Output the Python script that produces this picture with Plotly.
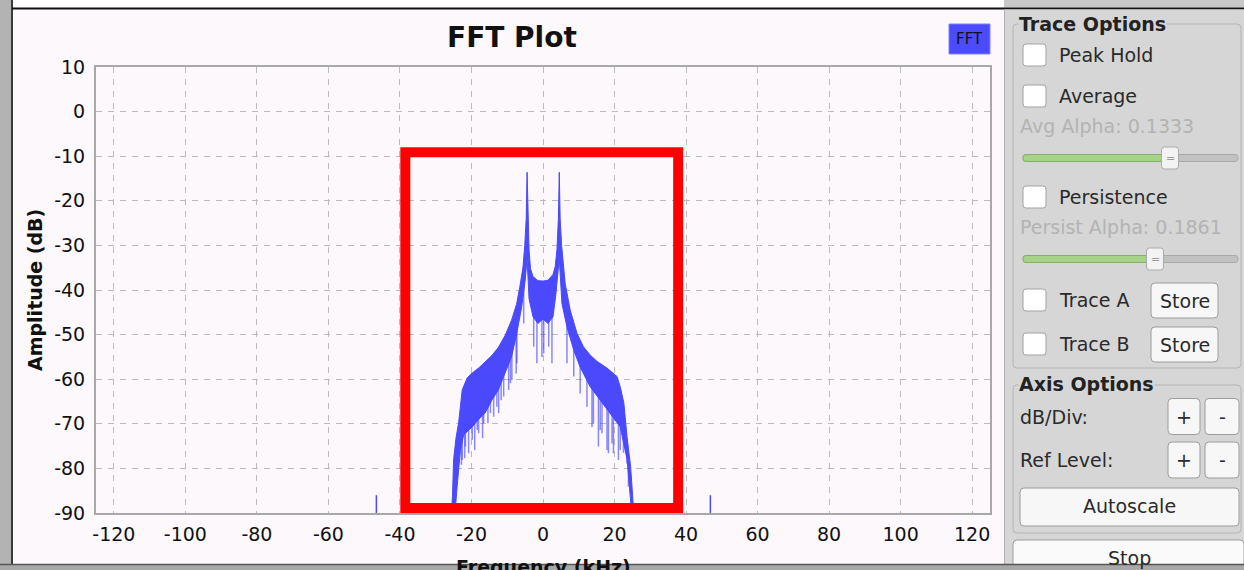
import numpy as np
import plotly.graph_objects as go

# ---------------- data ----------------
x_ticks = [-120, -100, -80, -60, -40, -20, 0, 20, 40, 60, 80, 100, 120]
y_ticks = [-90, -80, -70, -60, -50, -40, -30, -20, -10, 0, 10]

# upper envelope of the FFT trace (kHz, dB)
upper_freq = [-25.6, -25.3, -25.0, -24.3, -23.6, -22.6, -21.2, -19.8, -18.0, -16.2, -14.3,
              -12.5, -10.6, -8.8, -7.4, -6.5, -5.6, -5.1, -4.7, -4.45, -4.2, -3.9, -3.5,
              -2.8, -1.4, 0.0, 1.4, 2.8, 3.4, 3.9, 4.3, 4.55, 4.8, 5.2, 6.2, 7.6, 9.5,
              11.3, 13.2, 15.1, 17.9, 20.7, 21.6, 22.6, 23.5, 24.5, 25.2, 25.5]
upper_db = [-90, -86, -78, -73, -69.8, -62.4, -59.7, -58.6, -57.5, -56.2, -54.7,
            -52.9, -50.2, -46.8, -43.2, -39.4, -34.9, -30.0, -24.0, -13.6, -24.0, -31.0, -35.2,
            -37.0, -37.9, -38.0, -37.8, -36.5, -34.8, -31.0, -24.0, -13.6, -24.0, -30.0, -38.5, -44.5, -49.7,
            -52.7, -54.6, -56.0, -57.5, -59.4, -61.7, -65.3, -72.9, -79.6, -87.8, -90]

# lower edge of the dense part of the trace (kHz, dB)
lower_freq = [-25.6, -24.6, -24.0, -23.1, -22.2, -19.8, -18.0, -16.2, -14.3, -12.5, -10.6,
              -8.8, -7.4, -6.0, -5.0, -4.45, -3.9, -2.8, -1.4, 0.0, 1.4, 2.8, 3.6, 4.55,
              5.3, 6.7, 8.6, 10.4, 13.2, 16.0, 18.8, 21.6, 23.5, 24.4, 24.8, 25.5]
lower_db = [-90, -90, -84, -76, -72.5, -70.7, -69.0, -67.6, -64.7, -62.4, -58.6,
            -55.0, -50.0, -44.0, -38.0, -33.0, -42.0, -46.0, -47.5, -46.5, -47.5, -46.0, -41.0, -33.0,
            -43.0, -48.3, -53.5, -57.3, -61.7, -64.7, -67.6, -70.7, -78.0, -86.0, -90, -90]

# narrow downward spikes below the dense part (kHz, dB)
spike_freq = [-22.8, -22.6, -21.9, -21.7, -20.8, -19.8, -19.1, -18.4, -18.0, -16.9, -16.6,
              -15.4, -14.7, -13.8, -12.9, -12.4, -11.7, -11.0, -9.6, -9.1, -8.7, -7.5, -7.3,
              -5.4, -2.6, -1.7, -0.3, 0.2, 1.6, 2.5, 6.7, 8.6, 10.4, 12.3, 13.7, 14.1,
              15.5, 16.0, 16.5, 17.9, 18.3, 19.3, 19.7, 21.1, 21.6, 22.5, 23.5, 23.9]
spike_db = [-79.2, -78.1, -77.7, -75.1, -76.6, -73.6, -75.9, -71.4, -72.1, -73.2, -69.9,
            -69.9, -67.6, -68.4, -66.2, -67.6, -64.7, -63.9, -62.4, -60.9, -60.2, -58.7, -56.4,
            -47.5, -52.7, -56.4, -55.0, -54.2, -52.7, -56.4, -56.4, -59.4, -63.2, -66.2, -70.7, -69.9,
            -75.1, -71.4, -72.1, -75.9, -76.6, -74.4, -76.6, -78.1, -75.9, -76.5, -78.9, -84.1]

# small spurs outside the band
spur_freq = [-46.6, 46.8]
spur_db = [-86.0, -86.0]

# highlighted region (red box), kHz / dB
box_freq = [-38.5, 37.8]
box_db = [-88.9, -9.1]

# ---------------- geometry helpers ----------------
W_FIG, H_FIG = 1244, 570
L, R, T, B = 96, 990, 67, 513
PW, PH = R - L, B - T
FONT = "DejaVu Sans"
BLUE = "#4a4afc"
PANEL = "#d6d6d6"


def px(x):
    return (x - L) / PW


def py(y):
    return (B - y) / PH


shapes = []
annotations = []


def rect(x0, y0, x1, y1, fill=None, line=None, lw=1, r=0):
    if r == 0:
        shapes.append(dict(type="rect", xref="paper", yref="paper",
                           x0=px(x0), x1=px(x1), y0=py(y1), y1=py(y0),
                           fillcolor=fill if fill else "rgba(0,0,0,0)",
                           line=dict(color=line if line else "rgba(0,0,0,0)", width=lw if line else 0)))
        return
    rx, ry = r / PW, r / PH
    X0, X1, Y0, Y1 = px(x0), px(x1), py(y0), py(y1)
    path = (f"M {X0+rx},{Y0} L {X1-rx},{Y0} Q {X1},{Y0} {X1},{Y0-ry} "
            f"L {X1},{Y1+ry} Q {X1},{Y1} {X1-rx},{Y1} L {X0+rx},{Y1} "
            f"Q {X0},{Y1} {X0},{Y1+ry} L {X0},{Y0-ry} Q {X0},{Y0} {X0+rx},{Y0} Z")
    shapes.append(dict(type="path", xref="paper", yref="paper", path=path,
                       fillcolor=fill if fill else "rgba(0,0,0,0)",
                       line=dict(color=line if line else "rgba(0,0,0,0)", width=lw if line else 0)))


def hline(x0, x1, y, color, w):
    shapes.append(dict(type="line", xref="paper", yref="paper", x0=px(x0), x1=px(x1),
                       y0=py(y), y1=py(y), line=dict(color=color, width=w)))


def vline(x, y0, y1, color, w):
    shapes.append(dict(type="line", xref="paper", yref="paper", x0=px(x), x1=px(x),
                       y0=py(y0), y1=py(y1), line=dict(color=color, width=w)))


def text(x, y, s, size=19, color="#2a2a2a", anchor="left", bold=False, bg=None, angle=0, yanchor="middle"):
    d = dict(x=px(x), y=py(y), xref="paper", yref="paper", text=f"<b>{s}</b>" if bold else s,
             showarrow=False, xanchor=anchor, yanchor=yanchor, textangle=angle,
             font=dict(family=FONT, size=size, color=color), borderpad=0)
    if bg:
        d["bgcolor"] = bg
    annotations.append(d)


# ---------------- figure ----------------
fig = go.Figure()

poly_x = list(upper_freq) + list(lower_freq[::-1])
poly_y = list(upper_db) + list(lower_db[::-1])
fig.add_trace(go.Scatter(x=poly_x, y=poly_y, mode="lines", fill="toself",
                         fillcolor=BLUE, line=dict(color=BLUE, width=1),
                         hoverinfo="skip", showlegend=False))

spike_top = np.interp(spike_freq, lower_freq, lower_db)
sx, sy = [], []
for f, top, d in zip(spike_freq, spike_top, spike_db):
    sx += [f, f, None]
    sy += [top + 1.0, d, None]
fig.add_trace(go.Scatter(x=sx, y=sy, mode="lines", line=dict(color="rgba(74,74,252,0.65)", width=1.5),
                         hoverinfo="skip", showlegend=False))

ux, uy = [], []
for f, d in zip(spur_freq, spur_db):
    ux += [f, f, None]
    uy += [-90, d, None]
fig.add_trace(go.Scatter(x=ux, y=uy, mode="lines", line=dict(color=BLUE, width=1.5),
                         hoverinfo="skip", showlegend=False, cliponaxis=False))

# red highlight box (data coordinates)
shapes.append(dict(type="rect", xref="x", yref="y", x0=box_freq[0], x1=box_freq[1],
                   y0=box_db[0], y1=box_db[1], line=dict(color="#ff0000", width=10),
                   fillcolor="rgba(0,0,0,0)"))

# ---------- window chrome ----------
rect(0, 0, 11, 570, fill="#b3b3b3")
vline(12, 0, 570, "#3a3a3a", 2)
rect(13, 0, 1004, 7.5, fill="#ffffff")
rect(1004, 0, 1244, 7.5, fill="#c8c8c8")
hline(12, 1244, 8.5, "#111111", 2)

# title and legend box
text(512, 38, "FFT Plot", size=28, color="#111111", anchor="center", bold=True)
rect(949, 24, 990, 54, fill="#4b4bfb", line="#8080ff", lw=1)
text(969.5, 39, "FFT", size=15, color="#111111", anchor="center")

# axis titles
text(35, 290, "Amplitude (dB)", size=19, color="#111111", anchor="center", bold=True, angle=-90)
text(543, 555, "Frequency (kHz)", size=19, color="#111111", anchor="center", bold=True, yanchor="top")

# ---------- right control panel ----------
rect(1004, 9.5, 1244, 570, fill=PANEL)
vline(1004.5, 9.5, 570, "#b0b0b0", 1)

rect(1013, 24, 1241, 368, line="#b4b4b4", lw=1, r=4)
text(1018, 24, "Trace Options", size=19, color="#222222", bold=True, bg=PANEL)

for (cy, label) in [(55, "Peak Hold"), (96, "Average"), (197, "Persistence"), (300, "Trace A"), (344, "Trace B")]:
    rect(1023, cy - 11, 1046, cy + 11, fill="#ffffff", line="#a3a3a3", lw=1, r=3)
    text(1058, cy, label, size=19, color="#2a2a2a")

text(1019, 126, "Avg Alpha: 0.1333", size=19, color="#b3b3b3")
text(1019, 227, "Persist Alpha: 0.1861", size=19, color="#b3b3b3")

for (cy, gx, hx) in [(158, 1168, 1170), (259, 1152, 1155)]:
    rect(1023, cy - 3.5, 1238, cy + 3.5, fill="#c2c2c2", line="#a9a9a9", lw=1, r=3)
    rect(1023, cy - 3.5, gx, cy + 3.5, fill="#a6d387", line="#84b066", lw=1, r=3)
    rect(hx - 8.5, cy - 11, hx + 8.5, cy + 11, fill="#f3f3f3", line="#aaaaaa", lw=1, r=3)
    text(hx, cy, "=", size=11, color="#9a9a9a", anchor="center")

for cy in [300.5, 344.5]:
    rect(1151, cy - 17.5, 1218, cy + 17.5, fill="#f7f7f7", line="#9c9c9c", lw=1, r=4)
    text(1184.5, cy, "Store", size=19, color="#2a2a2a", anchor="center")

rect(1013, 385, 1241, 533, line="#b4b4b4", lw=1, r=4)
text(1018, 384, "Axis Options", size=19, color="#222222", bold=True, bg=PANEL)
text(1019, 417, "dB/Div:", size=19, color="#2a2a2a")
text(1019, 460, "Ref Level:", size=19, color="#2a2a2a")
for cy in [416.5, 460]:
    rect(1168, cy - 18, 1200, cy + 18, fill="#f7f7f7", line="#9c9c9c", lw=1, r=4)
    rect(1205, cy - 18, 1239, cy + 18, fill="#f7f7f7", line="#9c9c9c", lw=1, r=4)
    text(1184, cy, "+", size=19, color="#2a2a2a", anchor="center")
    text(1222, cy, "-", size=19, color="#2a2a2a", anchor="center")

rect(1020, 488, 1239, 526, fill="#f7f7f7", line="#9c9c9c", lw=1, r=4)
text(1129.5, 506, "Autoscale", size=19, color="#2a2a2a", anchor="center")

rect(1013, 540, 1244, 590, fill="#fafafa", line="#9c9c9c", lw=1, r=4)
text(1129, 558, "Stop", size=19, color="#2a2a2a", anchor="center")

# bottom bar
rect(0, 564.5, 1244, 570, fill="#a8a8a8")
hline(0, 1244, 564.5, "#555555", 1.5)

axis_common = dict(showgrid=True, gridcolor="#bababa", gridwidth=1, griddash="6px,6px",
                   showline=True, linecolor="#a8a8a8", linewidth=2, mirror=True,
                   ticks="", zeroline=False,
                   tickfont=dict(family=FONT, size=19, color="#111111"))

fig.update_layout(
    width=W_FIG, height=H_FIG, autosize=False,
    margin=dict(l=L, r=W_FIG - R, t=T, b=H_FIG - B, pad=0),
    paper_bgcolor="#fcf8fc", plot_bgcolor="#fcf8fc",
    showlegend=False,
    xaxis=dict(range=[-125, 125], tickvals=x_ticks, ticktext=[str(v) for v in x_ticks],
               ticklabelstandoff=3, **axis_common),
    yaxis=dict(range=[-90, 10], tickvals=y_ticks, ticktext=[str(v) for v in y_ticks],
               ticklabelstandoff=5, **axis_common),
    shapes=shapes,
    annotations=annotations,
)

fig.write_html("out.html")
